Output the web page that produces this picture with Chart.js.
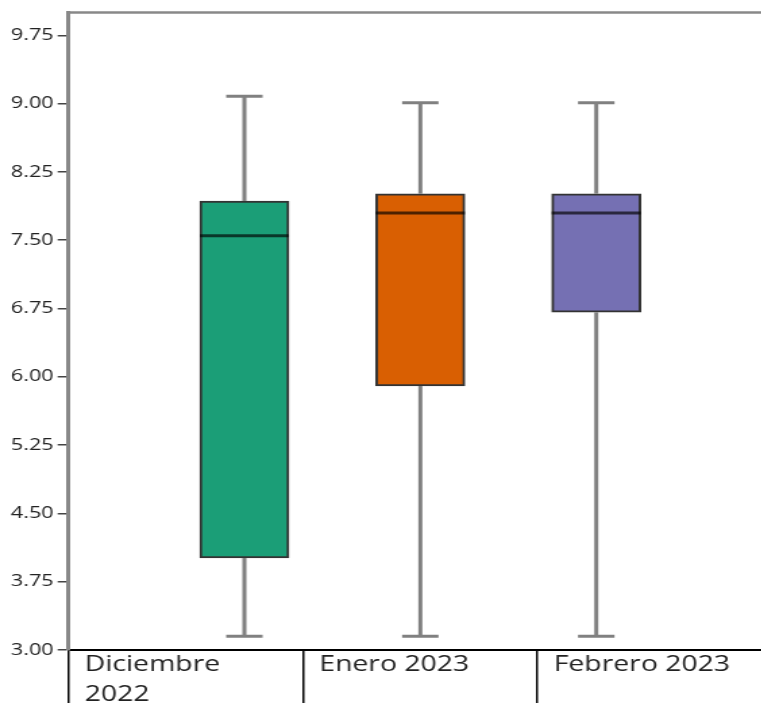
<!DOCTYPE html>
<html>
<head>
<meta charset="utf-8">
<script src="https://cdn.jsdelivr.net/npm/chart.js@4/dist/chart.umd.min.js"></script>
<style>
  html, body { margin: 0; padding: 0; background: #fff; overflow: hidden; width: 761px; height: 703px; }
  #plot { display: block; transform: scaleX(1.35); transform-origin: 0 0; }
</style>
</head>
<body>
<canvas id="plot" width="580" height="703"></canvas>
<script>
// Monthly distributions (box plot summary per month)
const months = ['Diciembre 2022', 'Enero 2023', 'Febrero 2023'];
const monthLabels = [['Diciembre', '2022'], 'Enero 2023', 'Febrero 2023'];
const positions = [1, 2, 3];
const whiskerLow = [3.15, 3.15, 3.15];
const q1 = [4.01, 5.90, 6.71];
const median = [7.55, 7.80, 7.80];
const q3 = [7.93, 8.01, 8.01];
const whiskerHigh = [9.08, 9.01, 9.01];
const boxColors = ['#1b9e77', '#d95f02', '#7570b3'];
const yTicks = [3.00, 3.75, 4.50, 5.25, 6.00, 6.75, 7.50, 8.25, 9.00, 9.75];
// Column dividers of the label row (three equal cells)
const cellEdges = [0, 4 / 3, 8 / 3, 4];

const boxExtras = {
  id: 'boxExtras',
  afterDatasetsDraw(chart) {
    const { ctx, scales: { x, y } } = chart;
    const meta = chart.getDatasetMeta(0);
    ctx.save();
    positions.forEach((p, i) => {
      const cx = x.getPixelForValue(p);
      const half = meta.data[i].width / 2;
      const capHalf = 13.5;
      // whiskers
      ctx.strokeStyle = '#808080';
      ctx.lineWidth = 3;
      ctx.beginPath();
      ctx.moveTo(cx, y.getPixelForValue(q3[i]));
      ctx.lineTo(cx, y.getPixelForValue(whiskerHigh[i]));
      ctx.moveTo(cx, y.getPixelForValue(q1[i]));
      ctx.lineTo(cx, y.getPixelForValue(whiskerLow[i]));
      ctx.moveTo(cx - capHalf, y.getPixelForValue(whiskerHigh[i]));
      ctx.lineTo(cx + capHalf, y.getPixelForValue(whiskerHigh[i]));
      ctx.moveTo(cx - capHalf, y.getPixelForValue(whiskerLow[i]));
      ctx.lineTo(cx + capHalf, y.getPixelForValue(whiskerLow[i]));
      ctx.stroke();
      // median
      ctx.strokeStyle = 'rgba(0,0,0,0.65)';
      ctx.lineWidth = 3;
      ctx.beginPath();
      const my = y.getPixelForValue(median[i]);
      ctx.moveTo(cx - half, my);
      ctx.lineTo(cx + half, my);
      ctx.stroke();
    });
    ctx.restore();
  },
  afterDraw(chart) {
    // top frame line
    const { ctx, chartArea } = chart;
    ctx.save();
    ctx.strokeStyle = '#888';
    ctx.lineWidth = 2.5;
    ctx.beginPath();
    ctx.moveTo(chartArea.left - 1.5, chartArea.top);
    ctx.lineTo(chartArea.right, chartArea.top);
    ctx.stroke();
    ctx.restore();
  }
};

new Chart(document.getElementById('plot'), {
  type: 'bar',
  data: {
    datasets: [{
      label: 'Distribución',
      data: positions.map((p, i) => ({ x: p, y: [q1[i], q3[i]] })),
      backgroundColor: boxColors,
      borderColor: 'rgba(0,0,0,0.8)',
      borderWidth: 2,
      borderSkipped: false,
      barThickness: 66
    }]
  },
  options: {
    responsive: false,
    animation: false,
    devicePixelRatio: 1,
    layout: { padding: { top: 9.5, right: 8, left: 0, bottom: 0 } },
    plugins: { legend: { display: false }, tooltip: { enabled: false } },
    scales: {
      x: {
        type: 'linear',
        min: 0,
        max: 4,
        offset: false,
        afterBuildTicks: (axis) => { axis.ticks = cellEdges.map(v => ({ value: v })); },
        afterFit: (axis) => { axis.height = 53; },
        border: { display: true, color: '#000', width: 2 },
        grid: {
          offset: false,
          drawOnChartArea: false,
          drawTicks: true,
          tickLength: 53,
          color: '#000',
          lineWidth: 1.5
        },
        ticks: {
          autoSkip: false,
          maxRotation: 0,
          minRotation: 0,
          align: 'start',
          labelOffset: 12,
          padding: -52.5,
          color: '#222',
          font: { family: 'Open Sans', size: 21, lineHeight: 1.4 },
          callback: (v, i) => (i < monthLabels.length ? monthLabels[i] : '')
        }
      },
      y: {
        min: 3,
        max: 10,
        afterBuildTicks: (axis) => { axis.ticks = yTicks.map(v => ({ value: v })); },
        afterFit: (axis) => { axis.width = 50.7; },
        border: { display: true, color: '#888', width: 3 },
        grid: {
          drawOnChartArea: false,
          drawTicks: true,
          tickLength: 8,
          color: '#444',
          lineWidth: 1.5
        },
        ticks: {
          padding: 3,
          color: '#222',
          font: { family: 'Open Sans', size: 16 },
          callback: (v) => Number(v).toFixed(2)
        }
      }
    }
  },
  plugins: [boxExtras]
});
</script>
</body>
</html>
